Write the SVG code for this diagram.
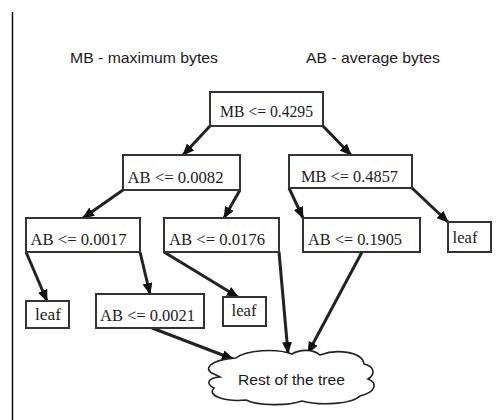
<svg xmlns="http://www.w3.org/2000/svg" width="504" height="420" viewBox="0 0 504 420">
<style>
.box{fill:#fff;stroke:#333;stroke-width:2}
.lbl{font-family:"Liberation Serif","Times New Roman",serif;font-size:16px;fill:#1a1a1a}
.sans{font-family:"Liberation Sans",Arial,sans-serif;font-size:15px;fill:#1a1a1a}
.edge{stroke:#222;stroke-width:3;fill:none;marker-end:url(#ah)}
.cloud{fill:#fff;stroke:#222;stroke-width:1.6}
</style>
<defs>
<marker id="ah" markerUnits="userSpaceOnUse" markerWidth="12" markerHeight="10" refX="11" refY="5" orient="auto">
<path d="M0,0 L12,5 L0,10 Z" fill="#111"/>
</marker>
</defs>
<rect width="504" height="420" fill="#fff"/>
<line x1="12.5" y1="12" x2="12.5" y2="420" stroke="#000" stroke-width="1.4"/>
<text class="sans" x="70" y="63" textLength="148" lengthAdjust="spacingAndGlyphs">MB - maximum bytes</text>
<text class="sans" x="306" y="63" textLength="134" lengthAdjust="spacingAndGlyphs">AB - average bytes</text>
<g id="connectors">
<line class="edge" x1="210" y1="126" x2="183" y2="155"/>
<line class="edge" x1="323" y1="126" x2="351" y2="155"/>
<line class="edge" x1="123" y1="190" x2="83" y2="218"/>
<line class="edge" x1="240" y1="190" x2="224" y2="218"/>
<line class="edge" x1="289" y1="188" x2="303" y2="218"/>
<line class="edge" x1="412" y1="188" x2="448" y2="222"/>
<line class="edge" x1="26" y1="252" x2="47" y2="301"/>
<line class="edge" x1="140" y1="252" x2="150" y2="294"/>
<line class="edge" x1="164" y1="252" x2="238" y2="297"/>
<line class="edge" x1="279" y1="252" x2="288" y2="353"/>
<line class="edge" x1="362" y1="252" x2="308" y2="353"/>
<line class="edge" x1="152" y1="328" x2="233" y2="359"/>
</g>
<g id="n_root"><rect class="box" x="210" y="92" width="113" height="34"/><text class="lbl" x="220" y="116.5" textLength="93" lengthAdjust="spacingAndGlyphs">MB &lt;= 0.4295</text></g>
<g id="n_ab0082"><rect class="box" x="123" y="155" width="117" height="35"/><text class="lbl" x="127.5" y="183" textLength="96" lengthAdjust="spacingAndGlyphs">AB &lt;= 0.0082</text></g>
<g id="n_mb4857"><rect class="box" x="289" y="155" width="123" height="33"/><text class="lbl" x="301" y="181.5" textLength="97" lengthAdjust="spacingAndGlyphs">MB &lt;= 0.4857</text></g>
<g id="n_ab0017"><rect class="box" x="26" y="218" width="114" height="34"/><text class="lbl" x="30.5" y="245" textLength="96" lengthAdjust="spacingAndGlyphs">AB &lt;= 0.0017</text></g>
<g id="n_ab0176"><rect class="box" x="164" y="218" width="115" height="34"/><text class="lbl" x="169" y="245" textLength="96" lengthAdjust="spacingAndGlyphs">AB &lt;= 0.0176</text></g>
<g id="n_ab1905"><rect class="box" x="303" y="218" width="117" height="34"/><text class="lbl" x="308" y="245" textLength="94" lengthAdjust="spacingAndGlyphs">AB &lt;= 0.1905</text></g>
<g id="n_leaf_r"><rect class="box" x="448" y="222" width="43" height="30"/><text class="lbl" x="452.5" y="243" textLength="25" lengthAdjust="spacingAndGlyphs">leaf</text></g>
<g id="n_leaf_bl"><rect class="box" x="26" y="301" width="43" height="27"/><text class="lbl" x="35" y="319.5" textLength="26" lengthAdjust="spacingAndGlyphs">leaf</text></g>
<g id="n_ab0021"><rect class="box" x="96" y="294" width="108" height="34"/><text class="lbl" x="100" y="320.5" textLength="95" lengthAdjust="spacingAndGlyphs">AB &lt;= 0.0021</text></g>
<g id="n_leaf_m"><rect class="box" x="223" y="297" width="43" height="29"/><text class="lbl" x="231.5" y="316" textLength="25" lengthAdjust="spacingAndGlyphs">leaf</text></g>
<g id="n_rest">
<path class="cloud" d="M214,374 C203,370 208,360 236,358 C246,350 276,348 292,354 C300,349 313,349 320,355 C336,349 362,351 364,364 C374,366 376,374 368,379 C378,383 376,392 360,396 C352,404 320,406 302,401 C288,406 258,406 246,400 C226,402 206,396 214,388 C206,384 207,378 220,377 Z"/>
<text class="sans" x="238" y="385" textLength="107" lengthAdjust="spacingAndGlyphs">Rest of the tree</text>
</g>
</svg>
